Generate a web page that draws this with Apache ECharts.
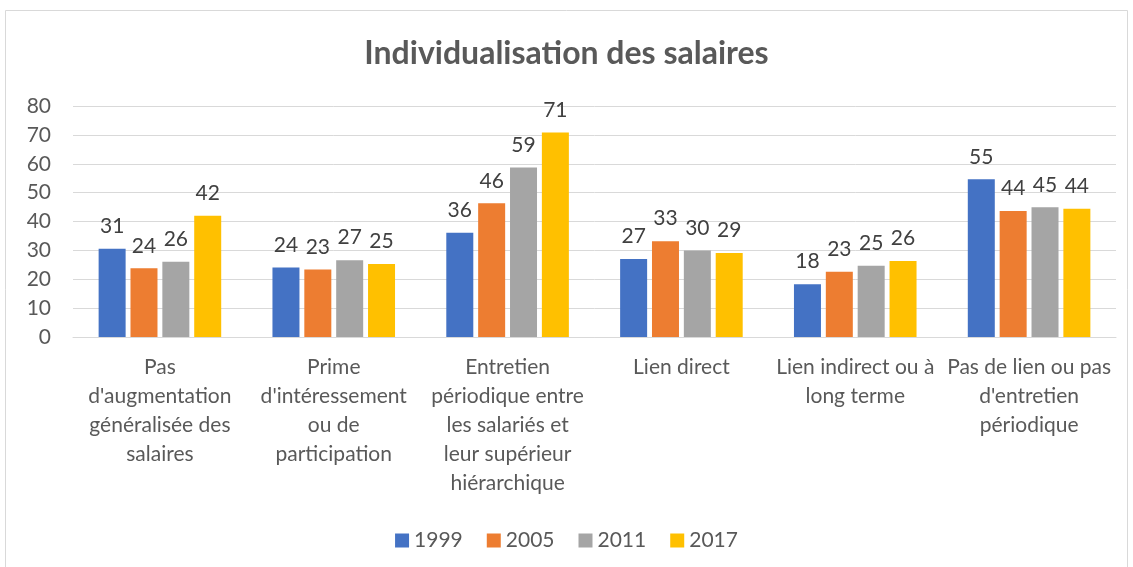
<!DOCTYPE html>
<html>
<head>
<meta charset="utf-8">
<script src="https://cdn.jsdelivr.net/npm/echarts@6/dist/echarts.min.js"></script>
<style>
  html, body { margin: 0; padding: 0; background: #fff; }
  #chart { width: 1133px; height: 567px; }
</style>
</head>
<body>
<div id="chart"></div>
<script>
// catégories (retours à la ligne comme dans l'original)
var categories = [
  "Pas\nd'augmentation\ngénéralisée des\nsalaires",
  "Prime\nd'intéressement\nou de\nparticipation",
  "Entretien\npériodique entre\nles salariés et\nleur supérieur\nhiérarchique",
  "Lien direct",
  "Lien indirect ou à\nlong terme",
  "Pas de lien ou pas\nd'entretien\npériodique"
];
var years = ['1999', '2005', '2011', '2017'];
var v1999 = [30.6, 24.1, 36.1, 27.0, 18.3, 54.6];
var v2005 = [23.8, 23.4, 46.3, 33.2, 22.6, 43.6];
var v2011 = [26.1, 26.6, 58.7, 30.0, 24.7, 44.9];
var v2017 = [42.0, 25.3, 70.8, 29.1, 26.3, 44.4];
var colors = ['#4472c4', '#ed7d31', '#a5a5a5', '#ffc000'];

var myChart = echarts.init(document.getElementById('chart'));
var font = 'Lato, "Open Sans", sans-serif';

function makeSeries(name, data, color) {
  return {
    name: name,
    type: 'bar',
    data: data,
    barWidth: 27,
    barGap: '18%',
    itemStyle: { color: color },
    label: {
      show: true,
      position: 'top',
      distance: 12,
      color: '#404040',
      fontSize: 21,
      fontFamily: font,
      formatter: function (p) { return Math.round(p.value); }
    }
  };
}

var option = {
  backgroundColor: '#fff',
  animation: false,
  graphic: [{
    type: 'rect',
    shape: { x: 5.5, y: 10.5, width: 1122, height: 580 },
    style: { fill: 'none', stroke: '#d9d9d9', lineWidth: 1 },
    silent: true
  }],
  title: {
    text: 'Individualisation des salaires',
    left: 'center',
    top: 33,
    textStyle: { color: '#595959', fontSize: 32, fontWeight: 'bold', fontFamily: font }
  },
  legend: {
    data: years,
    bottom: 11,
    left: 'center',
    itemWidth: 14,
    itemHeight: 14,
    itemGap: 24,
    icon: 'rect',
    textStyle: { color: '#595959', fontSize: 21, fontFamily: font }
  },
  grid: { left: 73, right: 17, top: 106, bottom: 230 },
  xAxis: {
    type: 'category',
    data: categories,
    axisLine: { lineStyle: { color: '#d9d9d9', width: 1 } },
    axisTick: { show: false },
    axisLabel: {
      interval: 0,
      color: '#595959',
      fontSize: 21,
      lineHeight: 29,
      margin: 16,
      fontFamily: font
    }
  },
  yAxis: {
    type: 'value',
    min: 0,
    max: 80,
    interval: 10,
    axisLine: { show: false },
    axisTick: { show: false },
    splitLine: { lineStyle: { color: '#d9d9d9', width: 1 } },
    axisLabel: { color: '#595959', fontSize: 21, margin: 22, fontFamily: font }
  },
  series: [
    makeSeries(years[0], v1999, colors[0]),
    makeSeries(years[1], v2005, colors[1]),
    makeSeries(years[2], v2011, colors[2]),
    makeSeries(years[3], v2017, colors[3])
  ]
};

myChart.setOption(option);
</script>
</body>
</html>
